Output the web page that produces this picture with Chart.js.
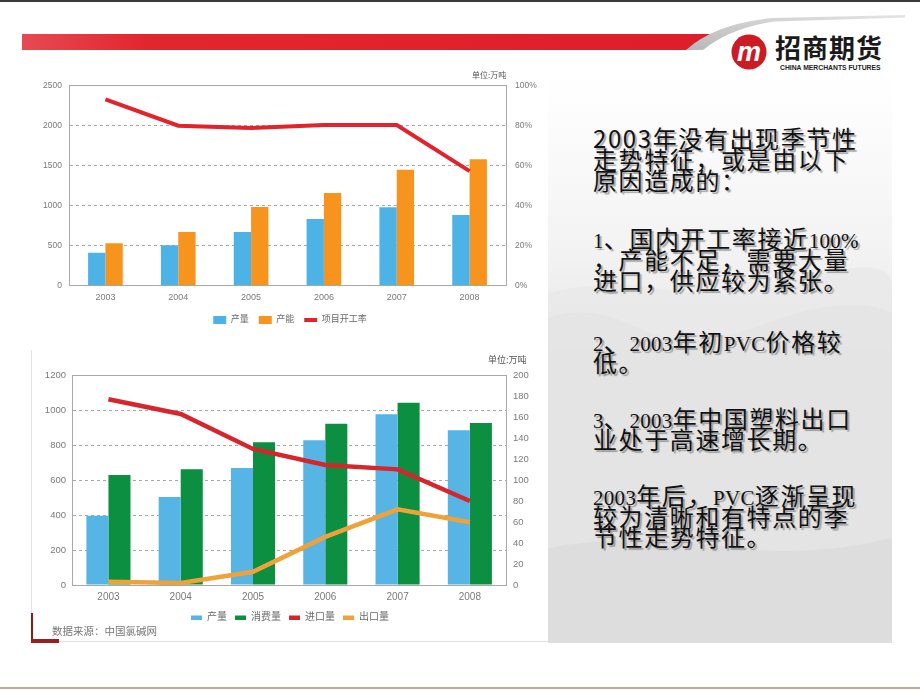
<!DOCTYPE html>
<html><head><meta charset="utf-8">
<script src="https://cdn.jsdelivr.net/npm/chart.js@4"></script>
<style>
html,body{margin:0;padding:0;}
body{width:920px;height:690px;position:relative;background:#fff;overflow:hidden;font-family:"Liberation Sans","Noto Sans CJK SC",sans-serif;}
.abs{position:absolute;}
.unit{position:absolute;color:#555;white-space:nowrap;font-family:"Noto Sans CJK SC",sans-serif;}
.para{position:absolute;left:593px;white-space:nowrap;font-family:"Noto Sans CJK SC",sans-serif;font-size:24px;line-height:20.7px;letter-spacing:1.6px;color:#111;text-shadow:2px 2px 1px rgba(110,110,110,0.6);}
.para .l{font-family:"Liberation Serif",serif;font-size:21px;letter-spacing:0.3px;line-height:0;}
</style></head><body>

<svg class="abs" style="left:0;top:0" width="920" height="80">
  <defs>
    <linearGradient id="rg" x1="0" x2="1" y1="0" y2="0">
      <stop offset="0" stop-color="#e64a52"/>
      <stop offset="0.18" stop-color="#e2262f"/>
      <stop offset="1" stop-color="#de1e2b"/>
    </linearGradient>
    <linearGradient id="gg" x1="0" x2="1" y1="1" y2="0">
      <stop offset="0" stop-color="#b9b9b9"/>
      <stop offset="1" stop-color="#e4e4e4"/>
    </linearGradient>
  </defs>
  <rect x="0" y="0" width="920" height="2" fill="#3a3a3a"/>
  <polygon points="22,34 713,34 688,50 22,50" fill="url(#rg)"/>
  <path d="M686,50 Q714,24 772,18 L905,15 L905,17.5 L774,21.5 Q730,28 703,50 Z" fill="url(#gg)"/>
  <circle cx="749" cy="52" r="17.5" fill="#cc1b23"/>
  <text x="749" y="61" text-anchor="middle" font-family="Liberation Sans" font-weight="bold" font-style="italic" font-size="27" fill="#fff">m</text>
</svg>
<div class="abs" style="left:775px;top:31px;font-family:'Noto Sans CJK SC';font-weight:bold;font-size:26px;line-height:32px;color:#1a1a1a;letter-spacing:1px;">招商期货</div>
<div class="abs" style="left:780px;top:64px;font-family:'Liberation Sans';font-weight:bold;font-size:6.8px;line-height:8px;color:#222;white-space:nowrap;">CHINA MERCHANTS FUTURES</div>

<!-- right text panel background -->
<svg class="abs" style="left:548px;top:78px" width="344" height="565">
  <defs>
    <linearGradient id="bg" x1="0" x2="0" y1="0" y2="1">
      <stop offset="0" stop-color="#ffffff"/>
      <stop offset="0.3" stop-color="#f3f3f3"/>
      <stop offset="0.5" stop-color="#e6e6e6"/>
      <stop offset="1" stop-color="#d7d7d7"/>
    </linearGradient>
  </defs>
  <rect x="0" y="0" width="344" height="565" fill="url(#bg)"/>
  <path d="M0,215 Q60,200 120,212 T260,200 T344,205 L344,565 L0,565 Z" fill="#e8e8e8" opacity="0.8"/>
  <path d="M0,240 Q40,225 90,250 T220,245 T344,235 L344,565 L0,565 Z" fill="#e2e2e2" opacity="0.7"/>
  <path d="M0,360 Q70,345 150,360 T344,350 L344,565 L0,565 Z" fill="#e4e4e4" opacity="0.6"/>
  <path d="M0,470 Q80,455 170,468 T344,460 L344,565 L0,565 Z" fill="#dadada" opacity="0.7"/>
</svg>

<div class="para" style="top:128.3px">2003年没有出现季节性<br>走势特征，或是由以下<br>原因造成的：</div>
<div class="para" style="top:228.3px"><span class="l">1</span>、国内开工率接近<span class="l">100%</span><br>，产能不足，需要大量<br>进口，供应较为紧张。</div>
<div class="para" style="top:331.3px"><span class="l">2</span>、<span class="l">2003</span>年初<span class="l">PVC</span>价格较<br>低。</div>
<div class="para" style="top:408.3px"><span class="l">3</span>、<span class="l">2003</span>年中国塑料出口<br>业处于高速增长期。</div>
<div class="para" style="top:485px"><span class="l">2003</span>年后，<span class="l">PVC</span>逐渐呈现<br>较为清晰和有特点的季<br>节性走势特征。</div>

<!-- chart 2 panel frame -->
<div class="abs" style="left:31px;top:350px;width:517px;height:291px;border-left:1px solid #e2e2e2;border-bottom:1px solid #e2e2e2;"></div>
<div class="abs" style="left:31px;top:613px;width:2px;height:30px;background:#8e1b1b;"></div>
<div class="abs" style="left:31px;top:639px;width:28px;height:4px;background:#9a2020;"></div>

<canvas id="c1" class="abs" style="left:30px;top:60px" width="520" height="280"></canvas>
<canvas id="c2" class="abs" style="left:30px;top:345px" width="520" height="300"></canvas>

<div class="unit" style="left:472px;top:69px;font-size:8px;line-height:12px;">单位:万吨</div>
<div class="unit" style="left:488px;top:354px;font-size:9px;line-height:12px;">单位:万吨</div>
<div class="unit" style="left:52px;top:624px;font-size:10.5px;line-height:14px;color:#777;">数据来源：中国氯碱网</div>

<div class="abs" style="left:0;top:687px;width:920px;height:2px;background:#c9a58e;"></div>

<script>
const years = ['2003', '2004', '2005', '2006', '2007', '2008'];

// chart 1 (万吨, %)
const c1Output   = [412, 505, 671, 834, 982, 884];
const c1Capacity = [530, 671, 984, 1158, 1450, 1580];
const c1Rate     = [93.2, 80.0, 78.8, 80.3, 80.3, 57.3];
const c1LeftTicks  = [0, 500, 1000, 1500, 2000, 2500];
const c1RightTicks = [0, 20, 40, 60, 80, 100];

// chart 2 (万吨)
const c2Output      = [397, 505, 671, 830, 979, 887];
const c2Consumption = [631, 663, 818, 925, 1045, 929];
const c2Import      = [177.5, 163.4, 130.0, 114.7, 110.5, 80.3];
const c2Export      = [3.2, 1.9, 12.7, 46.0, 72.3, 60.0];
const c2LeftTicks  = [0, 200, 400, 600, 800, 1000, 1200];
const c2RightTicks = [0, 20, 40, 60, 80, 100, 120, 140, 160, 180, 200];

Chart.defaults.font.family = '"Liberation Sans", "Noto Sans CJK SC", sans-serif';
Chart.defaults.color = '#7a7a7a';

const GRID = '#a8a8a8';
const plain = v => String(v);
function dashFor(max) {
  return c => (c.tick && (c.tick.value === 0 || c.tick.value === max)) ? [] : [3, 3];
}
function legendItems(kinds) {
  return chart => chart.data.datasets.map((ds, i) => ({
    text: ds.label,
    fillStyle: ds.type === 'line' ? ds.borderColor : ds.backgroundColor,
    strokeStyle: ds.type === 'line' ? ds.borderColor : ds.backgroundColor,
    lineWidth: kinds[i] === 'line' ? 4 : 0,
    pointStyle: kinds[i],
    hidden: false,
    datasetIndex: i,
    fontColor: '#6a6a6a'
  }));
}

new Chart(document.getElementById('c1'), {
  data: {
    labels: years,
    datasets: [
      { type: 'bar', label: '产量', data: c1Output, backgroundColor: '#4db3e7', yAxisID: 'y', order: 2 },
      { type: 'bar', label: '产能', data: c1Capacity, backgroundColor: '#f7941e', yAxisID: 'y', order: 2 },
      { type: 'line', label: '项目开工率', data: c1Rate, borderColor: '#e2222c', backgroundColor: '#e2222c',
        borderWidth: 4, pointRadius: 0, tension: 0, yAxisID: 'y1', order: 1 }
    ]
  },
  options: {
    responsive: false, animation: false,
    layout: { padding: { top: 25.7, bottom: 5.5, left: 0, right: 0 } },
    datasets: { bar: { categoryPercentage: 0.476, barPercentage: 1.0, borderWidth: 0 } },
    plugins: {
      tooltip: { enabled: false },
      legend: {
        position: 'bottom',
        labels: {
          usePointStyle: true, pointStyleWidth: 13, boxHeight: 8, padding: 10,
          font: { size: 9 }, color: '#6a6a6a',
          generateLabels: legendItems(['rect', 'rect', 'line'])
        }
      }
    },
    scales: {
      x: {
        grid: { display: false, drawTicks: false },
        border: { display: true, color: GRID },
        ticks: { padding: 6.9, font: { size: 9 }, color: '#7a7a7a' },
        afterFit: s => { s.height = 19.8; }
      },
      y: {
        position: 'left', min: 0, max: 2500,
        afterBuildTicks: s => { s.ticks = c1LeftTicks.map(v => ({ value: v })); },
        grid: { color: GRID, drawTicks: false, lineWidth: 1 },
        border: { display: true, color: GRID, dash: dashFor(2500) },
        ticks: { padding: 7, font: { size: 8.5 }, color: '#7a7a7a', callback: plain },
        afterFit: s => { s.width = 39; }
      },
      y1: {
        position: 'right', min: 0, max: 100,
        afterBuildTicks: s => { s.ticks = c1RightTicks.map(v => ({ value: v })); },
        grid: { display: false, drawTicks: false },
        border: { display: true, color: GRID },
        ticks: { padding: 9, font: { size: 8.5 }, color: '#7a7a7a', callback: v => v + '%' },
        afterFit: s => { s.width = 44; }
      }
    }
  }
});

new Chart(document.getElementById('c2'), {
  data: {
    labels: years,
    datasets: [
      { type: 'bar', label: '产量', data: c2Output, backgroundColor: '#56b5e5', yAxisID: 'y', order: 2 },
      { type: 'bar', label: '消费量', data: c2Consumption, backgroundColor: '#0c8f40', yAxisID: 'y', order: 2 },
      { type: 'line', label: '进口量', data: c2Import, borderColor: '#d5262d', backgroundColor: '#d5262d',
        borderWidth: 4.5, pointRadius: 0, tension: 0, yAxisID: 'y1', order: 1 },
      { type: 'line', label: '出口量', data: c2Export, borderColor: '#f0a23a', backgroundColor: '#f0a23a',
        borderWidth: 4.5, pointRadius: 0, tension: 0, yAxisID: 'y1', order: 1 }
    ]
  },
  options: {
    responsive: false, animation: false,
    layout: { padding: { top: 30.7, bottom: 12.3, left: 0, right: 0 } },
    datasets: { bar: { categoryPercentage: 0.61, barPercentage: 1.0, borderWidth: 0 } },
    plugins: {
      tooltip: { enabled: false },
      legend: {
        position: 'bottom',
        labels: {
          usePointStyle: true, pointStyleWidth: 11, boxHeight: 4.5, padding: 8,
          font: { size: 10 }, color: '#6a6a6a',
          generateLabels: legendItems(['rect', 'rect', 'rect', 'rect'])
        }
      }
    },
    scales: {
      x: {
        grid: { display: false, drawTicks: false },
        border: { display: true, color: GRID },
        ticks: { padding: 6, font: { size: 10 }, color: '#7a7a7a' },
        afterFit: s => { s.height = 19.7; }
      },
      y: {
        position: 'left', min: 0, max: 1200,
        afterBuildTicks: s => { s.ticks = c2LeftTicks.map(v => ({ value: v })); },
        grid: { color: GRID, drawTicks: false, lineWidth: 1 },
        border: { display: true, color: GRID, dash: dashFor(1200) },
        ticks: { padding: 6.3, font: { size: 9.5 }, color: '#7a7a7a', callback: plain },
        afterFit: s => { s.width = 42.3; }
      },
      y1: {
        position: 'right', min: 0, max: 200,
        afterBuildTicks: s => { s.ticks = c2RightTicks.map(v => ({ value: v })); },
        grid: { display: false, drawTicks: false },
        border: { display: true, color: GRID },
        ticks: { padding: 7, font: { size: 9.5 }, color: '#7a7a7a', callback: plain },
        afterFit: s => { s.width = 44; }
      }
    }
  }
});
</script>
</body></html>
